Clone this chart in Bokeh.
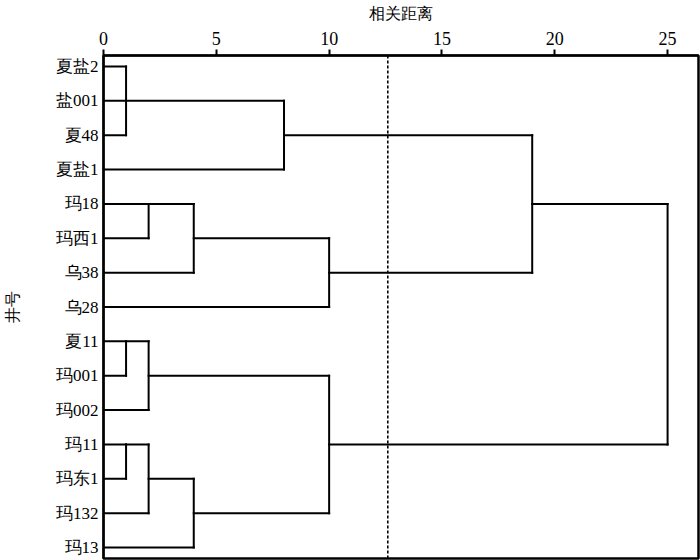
from bokeh.plotting import figure
from bokeh.models import Range1d, Span, FixedTicker, ColumnDataSource
from bokeh.embed import file_html
from bokeh.resources import INLINE

# ---- data ----
leaves = ["夏盐2", "盐001", "夏48", "夏盐1", "玛18", "玛西1", "乌38", "乌28",
          "夏11", "玛001", "玛002", "玛11", "玛东1", "玛132", "玛13"]
# merges: children (leaf names or "#k" for merge k), height, where the cluster line leaves
merge_children = [
    ["夏盐2", "盐001", "夏48"],  # 0
    ["#0", "夏盐1"],             # 1
    ["玛18", "玛西1"],           # 2
    ["#2", "乌38"],              # 3
    ["#3", "乌28"],              # 4
    ["#1", "#4"],                # 5
    ["夏11", "玛001"],           # 6
    ["#6", "玛002"],             # 7
    ["玛11", "玛东1"],           # 8
    ["#8", "玛132"],             # 9
    ["#9", "玛13"],              # 10
    ["#7", "#10"],               # 11
    ["#5", "#11"],               # 12
]
merge_heights = [1, 8, 2, 4, 10, 19, 1, 2, 1, 2, 4, 10, 25]
merge_anchor = ["mid", "mid", "first", "mid", "mid", "mid", "first", "mid",
                "first", "mid", "mid", "mid", "mid"]
cut_distance = 12.6
x_ticks = [0, 5, 10, 15, 20, 25]

# ---- geometry from the linkage ----
node_y = {name: i + 1 for i, name in enumerate(leaves)}
node_h = {name: 0 for name in leaves}
x0, y0, x1, y1 = [], [], [], []
for k, (kids, h, anc) in enumerate(zip(merge_children, merge_heights, merge_anchor)):
    ys = [node_y[c] for c in kids]
    for c in kids:
        x0.append(node_h[c]); x1.append(h); y0.append(node_y[c]); y1.append(node_y[c])
    x0.append(h); x1.append(h); y0.append(min(ys)); y1.append(max(ys))
    node_y["#%d" % k] = ys[0] if anc == "first" else (min(ys) + max(ys)) / 2
    node_h["#%d" % k] = h

src = ColumnDataSource(dict(x0=x0, y0=y0, x1=x1, y1=y1))

FONT = "Liberation Serif"

p = figure(width=700, height=560, output_backend="svg", toolbar_location=None,
           x_range=Range1d(0, 26.37), y_range=Range1d(len(leaves) + 0.32, 0.68),
           x_axis_location="above", min_border_left=102, min_border_top=55,
           min_border_right=2, min_border_bottom=2)

p.segment("x0", "y0", "x1", "y1", source=src, line_color="black", line_width=2,
          line_cap="square")
p.add_layout(Span(location=cut_distance, dimension="height", line_color="black",
                  line_width=1.6, line_dash="3 2"))

p.xgrid.visible = False
p.ygrid.visible = False
p.outline_line_color = "black"
p.outline_line_width = 2.5
p.outline_line_alpha = 1

xa = p.xaxis[0]
xa.ticker = FixedTicker(ticks=x_ticks)
xa.axis_label = "相关距离"
xa.axis_label_text_font = FONT
xa.axis_label_text_font_style = "normal"
xa.axis_label_text_font_size = "16px"
xa.axis_label_standoff = 7
xa.major_label_text_font = FONT
xa.major_label_text_font_size = "18px"
xa.major_label_standoff = 5
xa.major_tick_out = 6
xa.major_tick_in = 0
xa.minor_tick_out = 0
xa.minor_tick_in = 0
xa.axis_line_width = 2
xa.major_tick_line_width = 2
xa.axis_line_color = "black"
xa.major_tick_line_color = "black"
xa.major_label_text_color = "black"
xa.axis_label_text_color = "black"

ya = p.yaxis[0]
ya.ticker = FixedTicker(ticks=list(range(1, len(leaves) + 1)))
ya.major_label_overrides = {i + 1: name for i, name in enumerate(leaves)}
ya.axis_label = "井号"
ya.axis_label_text_font = FONT
ya.axis_label_text_font_style = "normal"
ya.axis_label_text_font_size = "16px"
ya.axis_label_standoff = 32
ya.major_label_text_font = FONT
ya.major_label_text_font_size = "17px"
ya.major_label_standoff = 5
ya.major_tick_out = 0
ya.major_tick_in = 0
ya.minor_tick_out = 0
ya.minor_tick_in = 0
ya.axis_line_width = 2
ya.axis_line_color = "black"
ya.major_label_text_color = "black"
ya.axis_label_text_color = "black"

open("out.html", "w").write(file_html(p, INLINE))
